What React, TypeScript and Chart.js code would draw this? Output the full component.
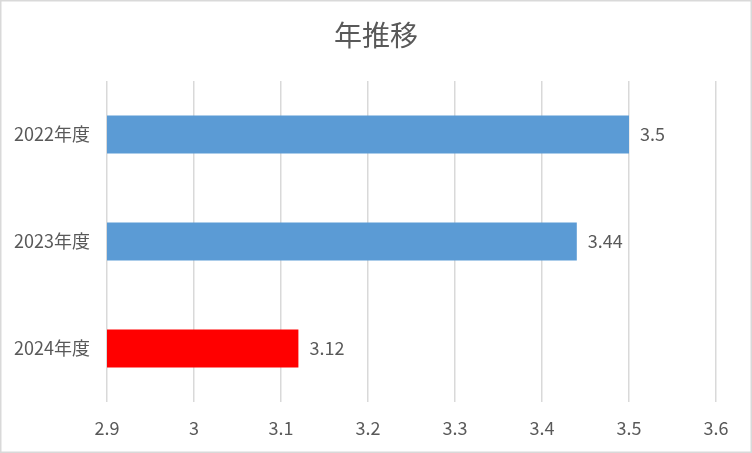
import React, { useEffect, useRef } from "react";
import { Chart, registerables } from "chart.js";

Chart.register(...registerables);

const categories = ["2022年度", "2023年度", "2024年度"];
const values = [3.5, 3.44, 3.12];
const xMin = 2.9;
const xMax = 3.6;
const xStep = 0.1;
const chartTitle = "年推移";

const FONT = "'Noto Sans CJK JP', 'Noto Sans', sans-serif";
const TEXT = "#595959";
const barColors = ["#5B9BD5", "#5B9BD5", "#FF0000"];

export default function App() {
  const ref = useRef<HTMLCanvasElement | null>(null);

  useEffect(() => {
    if (!ref.current) return;
    const bgPlugin = {
      id: "bgBorder",
      beforeDraw(chart: any) {
        const ctx = chart.ctx;
        ctx.save();
        ctx.fillStyle = "#ffffff";
        ctx.fillRect(0, 0, chart.width, chart.height);
        ctx.strokeStyle = "#d9d9d9";
        ctx.lineWidth = 1.5;
        ctx.strokeRect(0.75, 0.75, chart.width - 1.5, chart.height - 1.5);
        ctx.restore();
      },
    };
    const labelPlugin = {
      id: "valueLabels",
      afterDatasetsDraw(chart: any) {
        const ctx = chart.ctx;
        const meta = chart.getDatasetMeta(0);
        ctx.save();
        ctx.font = `18px ${FONT}`;
        ctx.fillStyle = TEXT;
        ctx.textAlign = "left";
        ctx.textBaseline = "middle";
        meta.data.forEach((el: any, i: number) => {
          const v = chart.data.datasets[0].data[i];
          ctx.fillText(String(v), el.x + 11, el.y);
        });
        ctx.restore();
      },
    };
    const chart = new Chart(ref.current, {
      type: "bar",
      data: {
        labels: categories,
        datasets: [
          {
            data: values,
            backgroundColor: barColors,
            borderWidth: 0,
            categoryPercentage: 1,
            barPercentage: 0.355,
          },
        ],
      },
      options: {
        indexAxis: "y",
        responsive: false,
        animation: false,
        devicePixelRatio: 1,
        layout: { padding: { left: 0, right: 0, top: 0, bottom: 0 } },
        plugins: {
          legend: { display: false },
          tooltip: { enabled: false },
          title: {
            display: true,
            text: chartTitle,
            color: TEXT,
            font: { family: FONT, size: 28, weight: "normal", lineHeight: 1.2 },
            padding: { top: 19, bottom: 28.4 },
          },
        },
        scales: {
          x: {
            type: "linear",
            min: xMin,
            max: xMax,
            afterFit(scale: any) {
              scale.height = 51;
            },
            ticks: {
              stepSize: xStep,
              color: TEXT,
              padding: 15,
              font: { family: FONT, size: 18 },
              callback: (v: any) => String(Number(Number(v).toFixed(2))),
            },
            grid: { color: "#d9d9d9", lineWidth: 1.5, drawTicks: false },
            border: { display: false },
          },
          y: {
            afterFit(scale: any) {
              scale.width = 107;
            },
            ticks: {
              color: TEXT,
              padding: 17,
              font: { family: FONT, size: 18 },
            },
            grid: { display: false, drawTicks: false },
            border: { display: false },
          },
          yRight: {
            type: "category",
            position: "right",
            display: true,
            afterFit(scale: any) {
              scale.width = 36;
            },
            ticks: { display: false },
            grid: { display: false, drawTicks: false },
            border: { display: false },
          },
        },
      },
      plugins: [bgPlugin, labelPlugin],
    } as any);
    return () => chart.destroy();
  }, []);

  return (
    <div style={{ position: "absolute", left: 0, top: 0, width: 752, height: 453 }}>
      <canvas ref={ref} width={752} height={453} style={{ display: "block" }} />
    </div>
  );
}
